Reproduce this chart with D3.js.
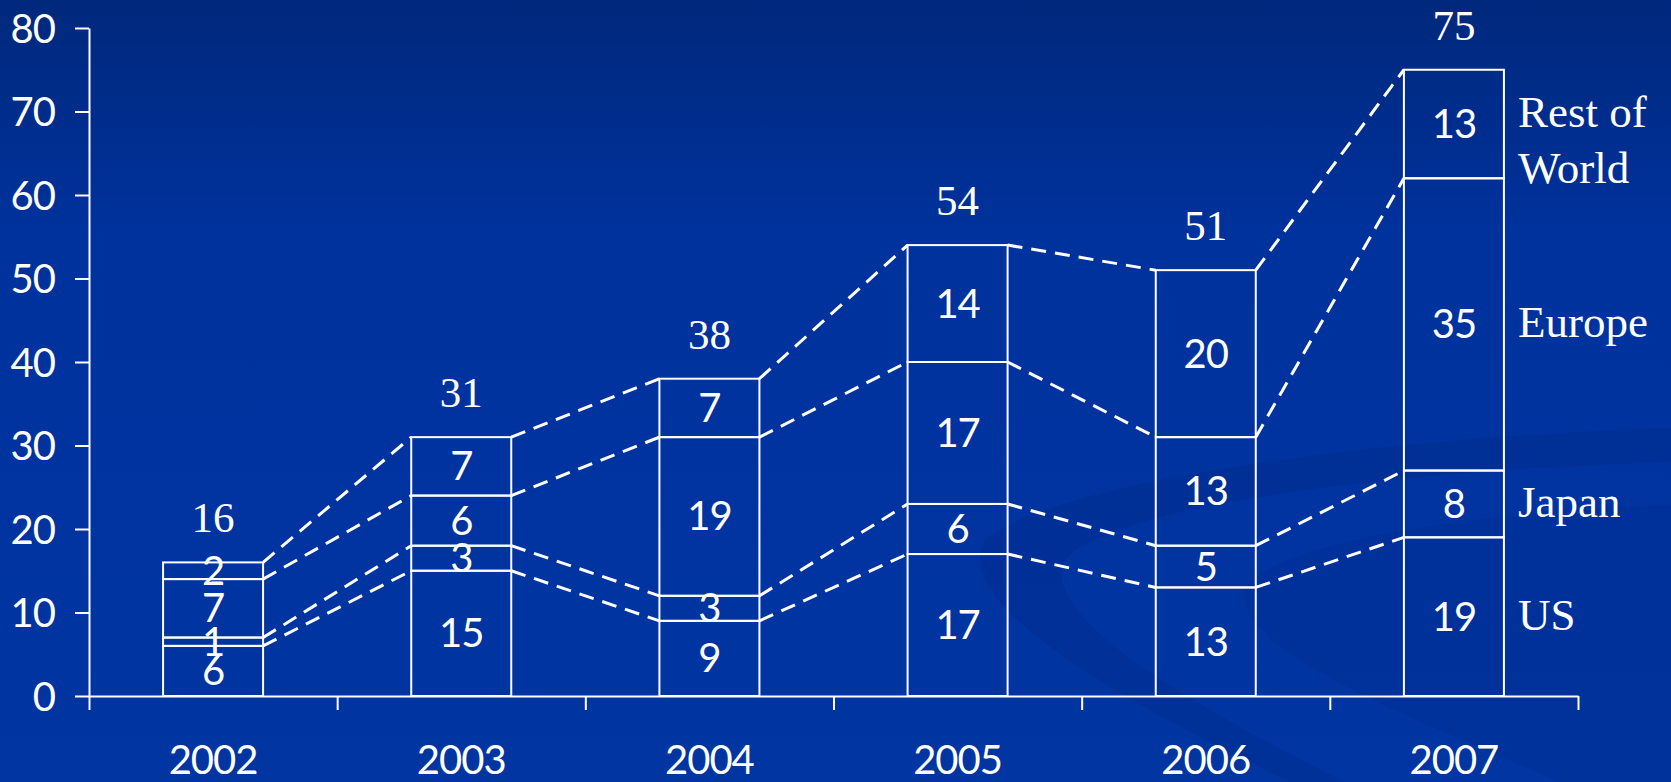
<!DOCTYPE html>
<html>
<head>
<meta charset="utf-8">
<script src="https://cdn.jsdelivr.net/npm/d3@7"></script>
<style>
  html, body { margin: 0; padding: 0; background: #0033a0; }
  svg { display: block; }
</style>
</head>
<body>
<svg id="chart" width="1671" height="782"></svg>
<script>
// ---- data ----
const years = ["2002", "2003", "2004", "2005", "2006", "2007"];
const regions = ["US", "Japan", "Europe", "Rest of World"];
const usValues     = [6, 15, 9, 17, 13, 19];
const japanValues  = [1, 3, 3, 6, 5, 8];
const europeValues = [7, 6, 19, 17, 13, 35];
const rowValues    = [2, 7, 7, 14, 20, 13];
const totals       = [16, 31, 38, 54, 51, 75];
const yTicks       = [0, 10, 20, 30, 40, 50, 60, 70, 80];

const seriesValues = [usValues, japanValues, europeValues, rowValues];

// ---- layout ----
const W = 1671, H = 782;
const svg = d3.select("#chart");
const sans = "Lato, 'Open Sans', sans-serif";
const serif = "'Liberation Serif', 'DejaVu Serif', serif";

// background
const defs = svg.append("defs");
const grad = defs.append("linearGradient").attr("id", "bg").attr("x1", 0).attr("y1", 0).attr("x2", 0).attr("y2", 1);
grad.append("stop").attr("offset", "0%").attr("stop-color", "#00287c");
grad.append("stop").attr("offset", "30%").attr("stop-color", "#00329d");
grad.append("stop").attr("offset", "100%").attr("stop-color", "#0035a2");
svg.append("rect").attr("width", W).attr("height", H).attr("fill", "url(#bg)");

// faint swooshes
const sw = svg.append("g").attr("stroke", "none");
sw.append("path")
  .attr("d", "M 1671 428 C 1400 436, 1060 478, 985 540 C 950 600, 1100 690, 1290 782 L 1345 782 C 1160 690, 1040 610, 1065 560 C 1110 505, 1400 470, 1671 462 Z")
  .attr("fill", "#002a86").attr("opacity", 0.35);
sw.append("path")
  .attr("d", "M 1671 505 C 1500 510, 1270 540, 1245 590 C 1230 650, 1420 720, 1560 782 L 1671 782 Z")
  .attr("fill", "#002a86").attr("opacity", 0.22);

const x0 = 89, x1 = 1578, yBottom = 696, yTop = 28;

const xSlot = d3.scaleBand().domain(years).range([x0, x1]).padding(0);
const barW = xSlot.bandwidth() * 0.403;
const barLeft = yr => xSlot(yr) + (xSlot.bandwidth() - barW) / 2;
const barCenter = yr => xSlot(yr) + xSlot.bandwidth() / 2;

const y = d3.scaleLinear().domain([0, 80]).range([yBottom, yTop]);

// stacked data
const table = years.map((yr, i) => {
  const o = { year: yr };
  regions.forEach((r, k) => o[r] = seriesValues[k][i]);
  return o;
});
const stacked = d3.stack().keys(regions)(table);

// ---- axes ----
const yAxis = svg.append("g").attr("transform", `translate(${x0},0)`)
  .call(d3.axisLeft(y).tickValues(yTicks).tickSize(14).tickSizeOuter(0).tickPadding(20));
yAxis.select(".domain").attr("stroke", "#fff").attr("stroke-width", 2);
yAxis.selectAll(".tick line").attr("stroke", "#fff").attr("stroke-width", 2);
yAxis.selectAll(".tick text").attr("fill", "#fff").style("font-family", sans)
  .style("font-size", "40px").attr("letter-spacing", "-1px").attr("dy", "0.35em");

const xTickScale = d3.scaleLinear().domain([0, years.length]).range([x0, x1]);
const xAxis = svg.append("g").attr("transform", `translate(0,${yBottom})`)
  .call(d3.axisBottom(xTickScale).ticks(years.length).tickSize(14).tickSizeOuter(0).tickFormat(""));
xAxis.select(".domain").attr("stroke", "#fff").attr("stroke-width", 2);
xAxis.selectAll(".tick line").attr("stroke", "#fff").attr("stroke-width", 2);

svg.append("g").selectAll("text").data(years).join("text")
  .attr("x", d => barCenter(d)).attr("y", 774)
  .attr("text-anchor", "middle").attr("fill", "#fff")
  .style("font-family", sans).style("font-size", "40px").attr("letter-spacing", "-1px")
  .text(d => d);

// ---- dashed connectors ----
const conn = svg.append("g").attr("stroke", "#fff").attr("stroke-width", 3)
  .attr("stroke-dasharray", "15 9").attr("fill", "none");
for (let i = 0; i < years.length - 1; i++) {
  stacked.forEach(layer => {
    const a = layer[i][1], b = layer[i + 1][1];
    conn.append("line")
      .attr("x1", barLeft(years[i]) + barW).attr("y1", y(a))
      .attr("x2", barLeft(years[i + 1])).attr("y2", y(b));
  });
}

// ---- bars ----
const bars = svg.append("g");
stacked.forEach(layer => {
  bars.append("g").selectAll("rect").data(layer).join("rect")
    .attr("x", d => barLeft(d.data.year))
    .attr("y", d => y(d[1]))
    .attr("width", barW)
    .attr("height", d => y(d[0]) - y(d[1]))
    .attr("fill", "none").attr("stroke", "#fff").attr("stroke-width", 2);
});

// segment value labels
stacked.forEach(layer => {
  bars.append("g").selectAll("text").data(layer).join("text")
    .attr("x", d => barCenter(d.data.year))
    .attr("y", d => y((d[0] + d[1]) / 2) + 14)
    .attr("text-anchor", "middle").attr("fill", "#fff")
    .style("font-family", sans).style("font-size", "40px").attr("letter-spacing", "-1px")
    .text(d => d[1] - d[0]);
});

// totals
svg.append("g").selectAll("text").data(totals).join("text")
  .attr("x", (d, i) => barCenter(years[i]))
  .attr("y", d => y(d) - 30)
  .attr("text-anchor", "middle").attr("fill", "#fff")
  .style("font-family", serif).style("font-size", "43px")
  .text(d => d);

// region labels beside last bar
const last = years.length - 1;
const lx = barLeft(years[last]) + barW + 14;
const rl = svg.append("g").attr("fill", "#fff").style("font-family", serif).style("font-size", "45px");
stacked.forEach((layer, k) => {
  const mid = y((layer[last][0] + layer[last][1]) / 2);
  const name = regions[k];
  if (name === "Rest of World") {
    const t = rl.append("text").attr("x", lx).attr("y", mid + 3);
    t.append("tspan").attr("x", lx).text("Rest of");
    t.append("tspan").attr("x", lx).attr("dy", 56).text("World");
  } else {
    rl.append("text").attr("x", lx).attr("y", mid + 13).text(name);
  }
});
</script>
</body>
</html>
